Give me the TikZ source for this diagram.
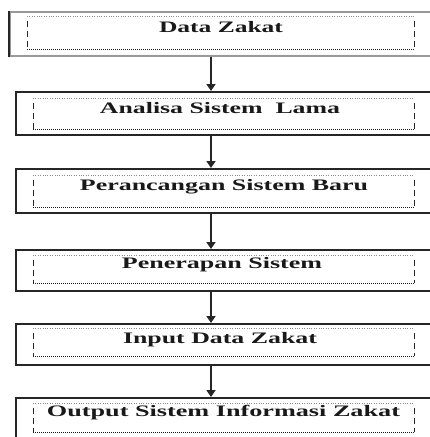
\documentclass[tikz,border=0pt]{standalone}
\usepackage{graphicx}
\usepackage{fontspec}
\setmainfont{Liberation Serif}
\usetikzlibrary{arrows.meta}
\tikzset{
  outerbox/.style={draw=black!85, line width=1.8pt, rectangle, inner sep=0pt, anchor=north west},
  innerbox/.style={draw=none, rectangle, inner sep=0pt, anchor=north west},
  topdot/.style={draw=black!45, line width=0.8pt, dash pattern=on 0.8pt off 1.6pt},
  botdot/.style={draw=black!90, line width=1.3pt, dash pattern=on 0.9pt off 1.1pt},
  sidedash/.style={draw=black!85, line width=1pt, dash pattern=on 6pt off 4pt},
  flowarrow/.style={draw=black!85, line width=1.8pt, -{Triangle[length=7pt,width=9pt]}},
  boxtext/.style={anchor=base, inner sep=0pt, font=\fontsize{16}{18}\selectfont\bfseries, text=black!90}
}
\newcommand{\wtext}[2]{\resizebox{#1pt}{\height}{#2}}
\begin{document}
\begin{tikzpicture}[x=1pt,y=-1pt]
\useasboundingbox (0,0) rectangle (430,437);
\begin{scope}
\clip (0,0) rectangle (430,437);
% outer boxes (they run on past the right edge)
\node[outerbox, draw=black!40, minimum width=520pt, minimum height=44pt] (b1) at (9,11) {};
\draw[black!85, line width=2pt] (b1.north west) -- (b1.south west);
\node[outerbox, minimum width=520pt, minimum height=43pt] (b2) at (15,91) {};
\node[outerbox, minimum width=520pt, minimum height=44pt] (b3) at (15,168) {};
\node[outerbox, minimum width=520pt, minimum height=41pt] (b4) at (15,249) {};
\node[outerbox, minimum width=520pt, minimum height=41pt] (b5) at (15,323) {};
\node[outerbox, minimum width=520pt, minimum height=44pt] (b6) at (15,397) {};
% inner boxes
\node[innerbox, minimum width=387pt, minimum height=33pt] (i1) at (27,16) {};
\node[innerbox, minimum width=381pt, minimum height=31pt] (i2) at (33,98) {};
\node[innerbox, minimum width=381pt, minimum height=32pt] (i3) at (33,175) {};
\node[innerbox, minimum width=381pt, minimum height=28pt] (i4) at (33,255) {};
\node[innerbox, minimum width=381pt, minimum height=28pt] (i5) at (33,328) {};
\node[innerbox, minimum width=381pt, minimum height=29pt] (i6) at (33,403) {};
\foreach \i in {i1,i2,i3,i4,i5,i6}{
  \draw[topdot] (\i.north west) -- (\i.north east);
  \draw[botdot] (\i.south west) -- (\i.south east);
  \draw[sidedash] ([yshift=-5pt]\i.north west) -- (\i.south west);
  \draw[sidedash] ([yshift=-5pt]\i.north east) -- (\i.south east);
}
% labels
\node[boxtext] (t1) at (221,32) {\wtext{124}{Data Zakat}};
\node[boxtext] (t2) at (220,113) {\wtext{240}{Analisa Sistem\ \ Lama}};
\node[boxtext] (t3) at (224,190) {\wtext{288}{Perancangan Sistem Baru}};
\node[boxtext] (t4) at (222,268) {\wtext{200}{Penerapan Sistem}};
\node[boxtext] (t5) at (220,343) {\wtext{194}{Input Data Zakat}};
\node[boxtext] (t6) at (223.5,416) {\wtext{353}{Output Sistem Informasi Zakat}};
% arrows
\coordinate (ax) at (211,0);
\draw[flowarrow] (b1.south -| ax) -- (b2.north -| ax);
\draw[flowarrow] (b2.south -| ax) -- (b3.north -| ax);
\draw[flowarrow] (b3.south -| ax) -- (b4.north -| ax);
\draw[flowarrow] (b4.south -| ax) -- (b5.north -| ax);
\draw[flowarrow] (b5.south -| ax) -- (b6.north -| ax);
\end{scope}
\end{tikzpicture}
\end{document}
